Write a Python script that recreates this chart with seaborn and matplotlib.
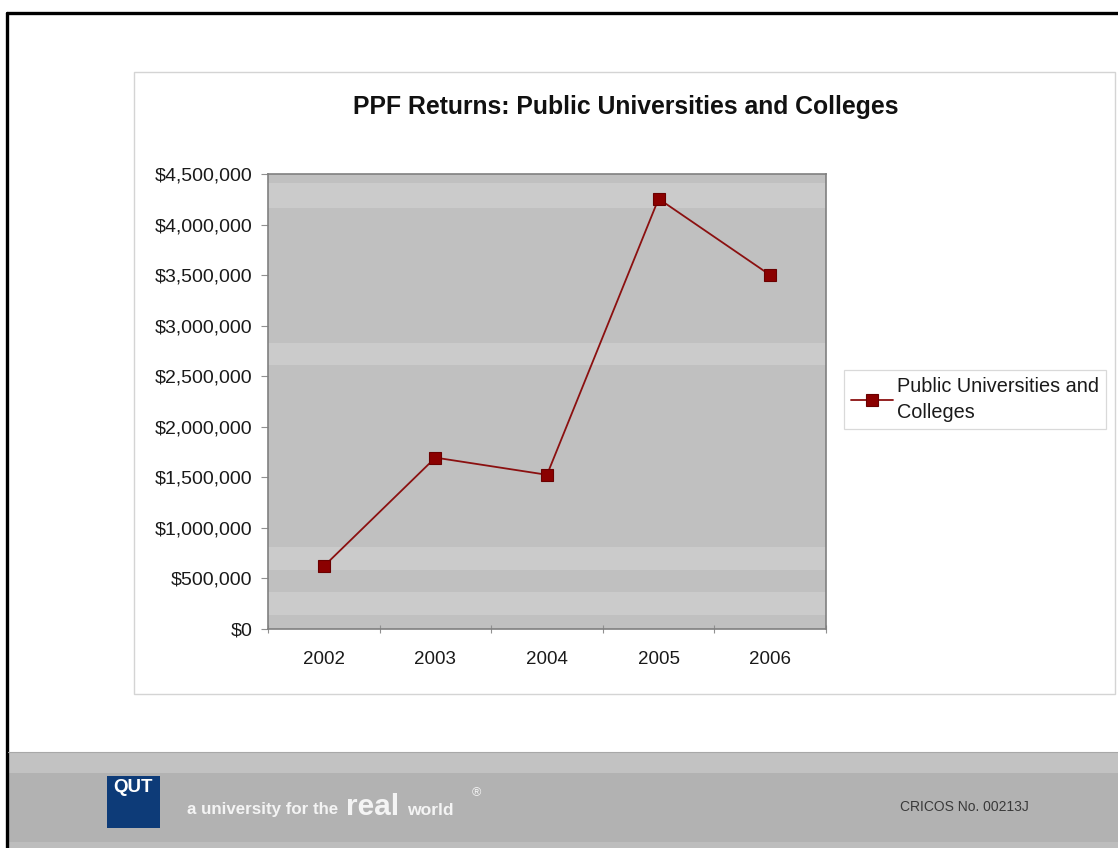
import matplotlib
matplotlib.use("Agg")
import matplotlib.pyplot as plt
from matplotlib.patches import Rectangle
from matplotlib.lines import Line2D
from matplotlib.ticker import FuncFormatter, MultipleLocator, FixedLocator
import seaborn as sns
import pandas as pd

# PPF returns by year
years = ["2002", "2003", "2004", "2005", "2006"]
returns = [620000, 1695000, 1525000, 4255000, 3500000]
series_name = "Public Universities and\nColleges"

# lighter horizontal bands in the plot area (low, high)
band_low = [140000, 585000, 2615000, 4165000]
band_high = [370000, 815000, 2830000, 4410000]

df = pd.DataFrame({"year": years, "returns": returns})

sns.set_theme(style="white")
plt.rcParams["font.family"] = ["Liberation Sans", "DejaVu Sans"]

W, H = 1118, 848
fig = plt.figure(figsize=(W / 100, H / 100), dpi=100)
fig.patch.set_facecolor("white")

def fx(px):
    return px / W

def fy(py):
    return 1 - py / H

# slide border (top and left edges)
fig.add_artist(Line2D([fx(6.5), 1.0], [fy(12.5), fy(12.5)], color="black", lw=2.4,
                      transform=fig.transFigure))
fig.add_artist(Line2D([fx(6.5), fx(6.5)], [0.0, fy(12.5)], color="black", lw=2.4,
                      transform=fig.transFigure))

# chart area frame
fig.add_artist(Rectangle((fx(134), fy(694)), fx(1115) - fx(134), fy(72) - fy(694),
                         transform=fig.transFigure, facecolor="white",
                         edgecolor="#d4d4d4", lw=1.0, zorder=0))

# footer strip
fig.add_artist(Rectangle((fx(8), fy(773)), 1, fy(752) - fy(773), transform=fig.transFigure,
                         facecolor="#c2c2c2", edgecolor="none", zorder=1))
fig.add_artist(Rectangle((fx(8), fy(842)), 1, fy(773) - fy(842), transform=fig.transFigure,
                         facecolor="#b2b2b2", edgecolor="none", zorder=1))
fig.add_artist(Rectangle((fx(8), 0), 1, fy(842), transform=fig.transFigure,
                         facecolor="#bdbdbd", edgecolor="none", zorder=1))
fig.add_artist(Line2D([fx(8), 1.0], [fy(752), fy(752)], color="#a8a8a8", lw=0.8,
                      transform=fig.transFigure, zorder=2))

# QUT logo block
fig.add_artist(Rectangle((fx(107), fy(828)), fx(160) - fx(107), fy(776) - fy(828),
                         transform=fig.transFigure, facecolor="#0d3b78",
                         edgecolor="none", zorder=2))
fig.text(fx(133.5), fy(792), "QUT", color="white", fontsize=13.5, fontweight="bold",
         ha="center", va="baseline", zorder=3)
fig.text(fx(187), fy(814), "a university for the", color="#f4f4f4", fontsize=12.2,
         fontweight="bold", ha="left", va="baseline", zorder=3)
fig.text(fx(346), fy(815), "real", color="#f4f4f4", fontsize=21.5, fontweight="bold",
         ha="left", va="baseline", zorder=3)
fig.text(fx(407), fy(815), "world", color="#f4f4f4", fontsize=12.6, fontweight="bold",
         ha="left", va="baseline", zorder=3)
fig.text(fx(476), fy(793), "®", color="#f4f4f4", fontsize=9, ha="center",
         va="center", zorder=3)
fig.text(fx(964), fy(811), "CRICOS No. 00213J", color="#3a3a3a", fontsize=10,
         ha="center", va="baseline", zorder=3)

# plot area
ax = fig.add_axes([fx(268), fy(629), fx(826) - fx(268), fy(174) - fy(629)])
ax.set_zorder(3)
ax.set_facecolor("#c0c0c0")
for lo, hi in zip(band_low, band_high):
    ax.axhspan(lo, hi, color="#cbcbcb", lw=0, zorder=0)

sns.lineplot(data=df, x="year", y="returns", ax=ax, sort=False, color="#8b1010",
             lw=1.3, marker="s", markersize=8, markerfacecolor="#8b0000",
             markeredgecolor="#6a0000", markeredgewidth=0.8, label=series_name,
             zorder=5)

ax.set_xlim(-0.5, len(years) - 0.5)
ax.set_ylim(0, 4500000)
ax.yaxis.set_major_locator(MultipleLocator(500000))
ax.yaxis.set_major_formatter(FuncFormatter(lambda v, p: f"${v:,.0f}"))
ax.set_xlabel("")
ax.set_ylabel("")

# category ticks sit between the years
ax.xaxis.set_major_locator(FixedLocator(range(len(years))))
ax.xaxis.set_minor_locator(FixedLocator([i - 0.5 for i in range(len(years) + 1)]))
ax.tick_params(axis="x", which="major", length=0, pad=16, labelsize=13.5,
               labelcolor="#1a1a1a")
ax.tick_params(axis="x", which="minor", length=6, width=0.8, color="#909090",
               direction="inout", bottom=True)
ax.tick_params(axis="y", which="major", length=5, width=0.8, color="#909090",
               direction="out", left=True, labelsize=14, labelcolor="#1a1a1a", pad=6)

for side in ["top", "right", "left", "bottom"]:
    ax.spines[side].set_visible(True)
    ax.spines[side].set_color("#808080")
    ax.spines[side].set_linewidth(1.2)

title_x = (fx(626) - fx(268)) / (fx(826) - fx(268))
title_y = 1 + (fy(107) - fy(174)) / (fy(174) - fy(629))
ax.set_title("PPF Returns: Public Universities and Colleges", fontsize=17.8,
             fontweight="bold", color="#111111", va="center", pad=0,
             x=title_x, y=title_y)

leg = ax.legend(loc="upper left", bbox_to_anchor=(fx(844), fy(370)),
                bbox_transform=fig.transFigure, borderaxespad=0, frameon=True,
                fancybox=False, edgecolor="#d0d0d0", facecolor="white",
                fontsize=14.3, handlelength=2.1, handletextpad=0.22,
                borderpad=0.36, labelspacing=0.2)
leg.get_frame().set_linewidth(0.9)
for t in leg.get_texts():
    t.set_color("#1a1a1a")
    t.set_linespacing(1.45)

fig.savefig("out.png", dpi=100)
